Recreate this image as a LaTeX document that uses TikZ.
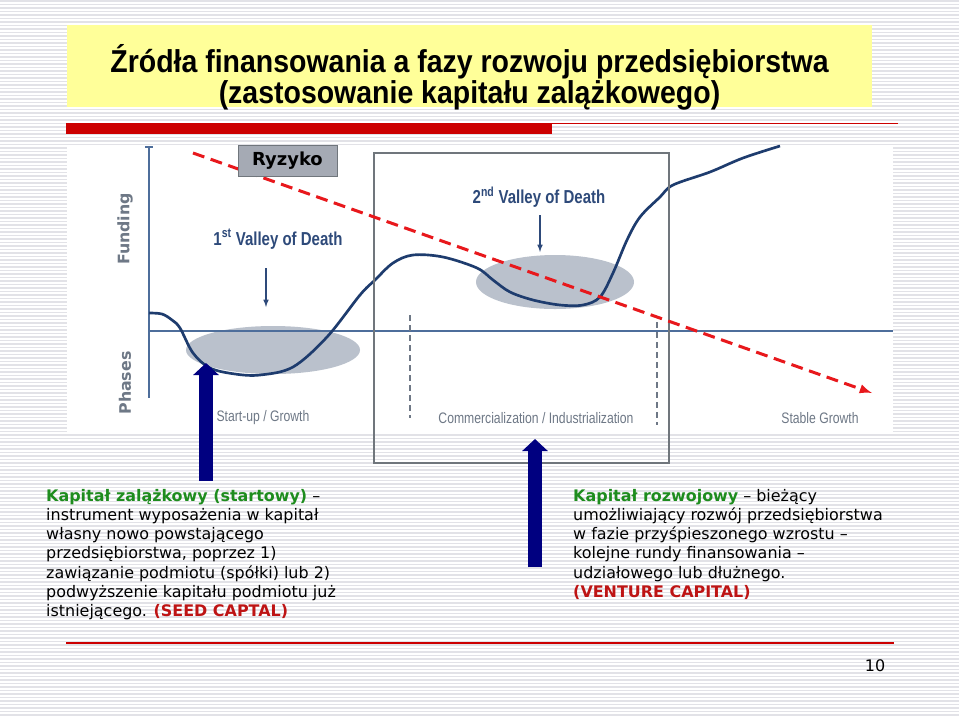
\documentclass[tikz,border=0pt]{standalone}
\usepackage{fontspec}
\setmainfont{DejaVu Sans}
\newfontfamily\narrowfont{Liberation Sans}[FakeStretch=0.8]
\newfontfamily\titlefont{Liberation Sans}[FakeStretch=0.9]
\usepackage{xcolor}
\usepackage{tikz}
\usetikzlibrary{shapes.geometric, arrows, arrows.meta, positioning}
\definecolor{titleyellow}{RGB}{255,255,153}
\definecolor{barred}{RGB}{204,0,0}
\definecolor{stripegray}{RGB}{226,226,231}
\definecolor{axisblue}{RGB}{78,110,155}
\definecolor{curveblue}{RGB}{30,60,110}
\definecolor{valleyblue}{RGB}{46,74,122}
\definecolor{phasegray}{RGB}{110,120,134}
\definecolor{blobgray}{RGB}{186,193,204}
\definecolor{framegray}{RGB}{112,118,124}
\definecolor{riskred}{RGB}{232,24,28}
\definecolor{riskbox}{RGB}{165,170,180}
\definecolor{navyblue}{RGB}{0,0,128}
\definecolor{headgreen}{RGB}{30,140,30}
\definecolor{capred}{RGB}{190,20,20}

\begin{document}
\begin{tikzpicture}[
  x=0.03cm, y=-0.03cm,
  stripe/.style={stripegray, line width=0.045cm},
  titlebox/.style={rectangle, fill=titleyellow, minimum width=24.15cm, minimum height=2.46cm},
  titletext/.style={align=center, font=\titlefont\bfseries\fontsize{27}{26.4}\selectfont},
  axis/.style={axisblue, line width=0.06cm},
  curve/.style={curveblue, line width=0.08cm},
  blob/.style={ellipse, fill=blobgray, inner sep=0pt},
  valley/.style={text=valleyblue, font=\narrowfont\bfseries\fontsize{16}{18}\selectfont},
  phase/.style={text=phasegray, font=\narrowfont\fontsize{13}{15}\selectfont},
  axislabel/.style={text=phasegray, rotate=90, font=\bfseries\fontsize{13.5}{15}\selectfont},
  pointer/.style={-latex, valleyblue, line width=0.04cm},
  separator/.style={phasegray, line width=0.04cm, dash pattern=on 0.18cm off 0.12cm},
  framebox/.style={rectangle, draw=framegray, line width=0.075cm, minimum width=8.85cm, minimum height=9.3cm},
  riskline/.style={-latex, riskred, line width=0.09cm, dash pattern=on 0.36cm off 0.2cm},
  riskbox/.style={rectangle, fill=riskbox, draw=framegray, line width=0.03cm, minimum width=2.97cm, minimum height=0.93cm, font=\bfseries\fontsize{15.3}{17}\selectfont},
  bigarrow/.style={navyblue, line width=0.42cm, -{Triangle[length=0.36cm, width=0.75cm]}},
  body/.style={anchor=north west, align=left, inner sep=0pt, font=\fontsize{13.6}{16.4}\selectfont}
]
  \useasboundingbox (0,0) rectangle (959,717);

  % Background
  \foreach \yy in {1,4.5,...,717}
    \draw[stripe] (0,\yy) -- (959,\yy);
  \fill[white] (67,145) rectangle (893,432);

  % Title
  \node[titlebox] (head) at (469.5,66) {};
  \node[titletext] (title) at (469.5,77.5) {Źródła finansowania a fazy rozwoju przedsiębiorstwa\\(zastosowanie kapitału zalążkowego)};
  \fill[barred] (66,123) rectangle (552,134);
  \draw[barred, line width=0.05cm] (552,123.5) -- (898,123.5);

  % Chart
  \node[blob, minimum width=5.22cm, minimum height=1.44cm] (valley1) at (273,350) {};
  \node[blob, minimum width=4.74cm, minimum height=1.62cm] (valley2) at (555,282) {};
  \draw[axis] (145,147) -- (153,147);
  \draw[axis] (149,147) -- (149,398);
  \draw[axis] (149,331) -- (893,331);
  \draw[curve] plot[smooth, tension=0.55] coordinates {
    (149,313) (162,314) (172,320) (180,328) (193,353) (210,368) (235,374) (260,375)
    (293,367) (327,337) (360,295) (375,280) (393,263) (413,255) (443,257)
    (477,268) (493,280) (510,292) (533,300) (560,305) (583,305) (600,297)
    (613,273) (627,240) (640,217) (660,197) (673,185) (710,172) (743,158) (780,146)};
  \draw[separator] (410,315) -- (410,418);
  \draw[separator] (657,322) -- (657,425);
  \node[framebox] (commbox) at (521.5,308) {};

  \node[axislabel] (funding) at (125,229) {Funding};
  \node[axislabel] (phases) at (125,383) {Phases};
  \node[valley] (v1label) at (278,239) {1\textsuperscript{st} Valley of Death};
  \node[valley] (v2label) at (539,197) {2\textsuperscript{nd} Valley of Death};
  \coordinate (v1top) at (266,268);
  \coordinate (v1tip) at (266,307);
  \coordinate (v2top) at (540,215);
  \coordinate (v2tip) at (540,252);
  \draw[pointer] (v1top) -- (v1tip);
  \draw[pointer] (v2top) -- (v2tip);
  \node[phase] (startup) at (263,418) {Start-up / Growth};
  \node[phase] (commerc) at (536,418) {Commercialization / Industrialization};
  \node[phase] (stable) at (820,418) {Stable Growth};

  % Risk
  \coordinate (riskstart) at (193,153);
  \coordinate (riskend) at (872,393);
  \draw[riskline] (riskstart) -- (riskend);
  \node[riskbox] (risk) at (287.5,160.5) {Ryzyko};

  % Arrows to the texts
  \coordinate (seedfoot) at (206,481);
  \coordinate (seedtip) at (206,363);
  \coordinate (ventfoot) at (535,567);
  \coordinate (venttip) at (535,439);
  \draw[bigarrow] (seedfoot) -- (seedtip);
  \draw[bigarrow] (ventfoot) -- (venttip);

  % Texts
  \node[body] (seed) at (46,489) {\textcolor{headgreen}{\bfseries Kapitał zalążkowy (startowy)} --\\
    instrument wyposażenia w kapitał\\
    własny nowo powstającego\\
    przedsiębiorstwa, poprzez 1)\\
    zawiązanie podmiotu (spółki) lub 2)\\
    podwyższenie kapitału podmiotu już\\
    istniejącego. \textcolor{capred}{\bfseries (SEED CAPTAL)}};
  \node[body] (venture) at (573,489) {\textcolor{headgreen}{\bfseries Kapitał rozwojowy} -- bieżący\\
    umożliwiający rozwój przedsiębiorstwa\\
    w fazie przyśpieszonego wzrostu --\\
    kolejne rundy finansowania --\\
    udziałowego lub dłużnego.\\
    \textcolor{capred}{\bfseries (VENTURE CAPITAL)}};

  % Footer
  \draw[barred, line width=0.08cm] (66,643) -- (894,643);
  \node[font=\fontsize{13.6}{15}\selectfont] (pagenum) at (875,666) {10};
\end{tikzpicture}
\end{document}
